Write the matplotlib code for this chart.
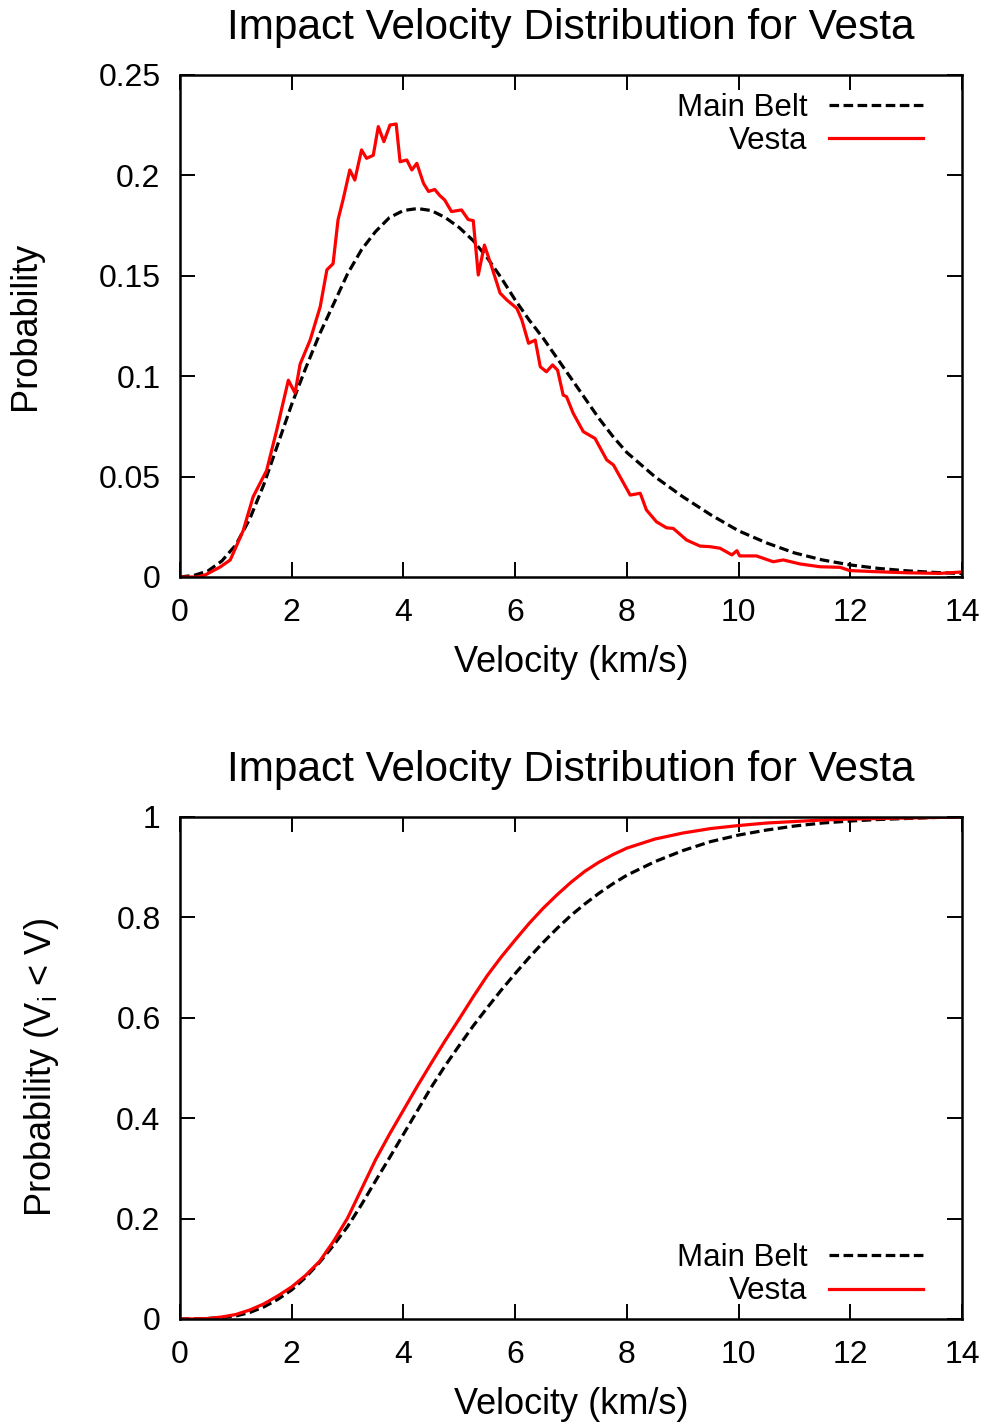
import matplotlib
matplotlib.use("Agg")
import matplotlib.pyplot as plt
from matplotlib.ticker import FuncFormatter, MultipleLocator

plt.rcParams['font.family'] = ['Liberation Sans', 'DejaVu Sans']

# ---- Data ----
# Probability density, Main Belt (smooth)
mb_v = [0.0, 0.25, 0.5, 0.75, 1.0, 1.25, 1.5, 1.75, 2.0, 2.25, 2.5, 2.75, 3.0,
        3.25, 3.5, 3.75, 4.0, 4.25, 4.5, 4.75, 5.0, 5.25, 5.5, 5.75, 6.0, 6.25,
        6.5, 6.75, 7.0, 7.25, 7.5, 7.75, 8.0, 8.25, 8.5, 8.75, 9.0, 9.5, 10.0,
        10.5, 11.0, 11.5, 12.0, 12.5, 13.0, 13.5, 14.0]
mb_p = [0.0, 0.0008, 0.003, 0.008, 0.016, 0.029, 0.046, 0.066, 0.086, 0.104,
        0.121, 0.136, 0.151, 0.163, 0.172, 0.179, 0.1825, 0.1835, 0.1825, 0.179,
        0.174, 0.1675, 0.159, 0.149, 0.138, 0.128, 0.119, 0.109, 0.099, 0.089,
        0.079, 0.070, 0.062, 0.056, 0.050, 0.045, 0.040, 0.031, 0.023, 0.017,
        0.012, 0.0085, 0.006, 0.0043, 0.0031, 0.0023, 0.0017]

# Probability density, Vesta (noisy histogram)
vesta_v = [0.0, 0.3, 0.45, 0.72, 0.9, 1.13, 1.31, 1.55, 1.73, 1.94, 2.06, 2.15,
           2.33, 2.51, 2.63, 2.74, 2.83, 2.92, 3.04, 3.13, 3.25, 3.34, 3.46, 3.55,
           3.65, 3.76, 3.87, 3.94, 4.06, 4.15, 4.24, 4.36, 4.45, 4.56, 4.65, 4.74,
           4.86, 5.04, 5.16, 5.25, 5.34, 5.45, 5.58, 5.73, 5.85, 6.03, 6.12, 6.24,
           6.36, 6.45, 6.56, 6.67, 6.76, 6.86, 6.92, 7.04, 7.22, 7.43, 7.64, 7.76,
           7.91, 8.06, 8.24, 8.35, 8.53, 8.71, 8.83, 9.07, 9.31, 9.49, 9.67, 9.88,
           9.97, 10.02, 10.32, 10.62, 10.80, 11.10, 11.46, 11.82, 11.99, 12.41,
           13.01, 13.60, 14.0]
vesta_p = [0.0, 0.0, 0.001, 0.005, 0.0085, 0.023, 0.040, 0.053, 0.073, 0.098,
           0.0916, 0.106, 0.118, 0.1346, 0.153, 0.156, 0.178, 0.188, 0.2027,
           0.1977, 0.2127, 0.2085, 0.210, 0.2243, 0.2168, 0.2251, 0.2256, 0.2068,
           0.2077, 0.2027, 0.206, 0.196, 0.192, 0.193, 0.190, 0.1877, 0.182,
           0.1828, 0.178, 0.1775, 0.1504, 0.1653, 0.1545, 0.1414, 0.138, 0.1338,
           0.128, 0.1164, 0.118, 0.1047, 0.1022, 0.1056, 0.103, 0.0906, 0.0898,
           0.0815, 0.0724, 0.069, 0.0583, 0.0558, 0.0483, 0.0408, 0.0417, 0.0334,
           0.0275, 0.0245, 0.0242, 0.0184, 0.0154, 0.0151, 0.0143, 0.011, 0.0131,
           0.0105, 0.0105, 0.0076, 0.0085, 0.0065, 0.0051, 0.0048, 0.0032, 0.0027,
           0.0021, 0.0018, 0.0025]

# Cumulative probability
cdf_v = [0.0, 0.25, 0.5, 0.75, 1.0, 1.25, 1.5, 1.75, 2.0, 2.25, 2.5, 2.75, 3.0,
         3.25, 3.5, 3.75, 4.0, 4.25, 4.5, 4.75, 5.0, 5.25, 5.5, 5.75, 6.0, 6.25,
         6.5, 6.75, 7.0, 7.25, 7.5, 7.75, 8.0, 8.5, 9.0, 9.5, 10.0, 10.5, 11.0,
         11.5, 12.0, 12.5, 13.0, 13.5, 14.0]
mb_cdf = [0.0, 0.0002, 0.001, 0.003, 0.006, 0.013, 0.024, 0.039, 0.058, 0.083,
          0.113, 0.147, 0.184, 0.228, 0.275, 0.321, 0.368, 0.415, 0.462, 0.505,
          0.545, 0.584, 0.620, 0.655, 0.688, 0.720, 0.750, 0.778, 0.804, 0.827,
          0.848, 0.867, 0.884, 0.911, 0.933, 0.951, 0.964, 0.974, 0.982, 0.988,
          0.992, 0.995, 0.997, 0.999, 1.0]
vesta_cdf = [0.0, 0.0002, 0.001, 0.004, 0.009, 0.018, 0.030, 0.046, 0.064, 0.087,
             0.115, 0.155, 0.201, 0.259, 0.317, 0.368, 0.416, 0.464, 0.510, 0.555,
             0.598, 0.642, 0.684, 0.721, 0.755, 0.788, 0.818, 0.845, 0.870, 0.892,
             0.910, 0.925, 0.938, 0.956, 0.968, 0.977, 0.983, 0.988, 0.991, 0.994,
             0.996, 0.997, 0.998, 0.999, 1.0]

title = "Impact Velocity Distribution for Vesta"
xlabel = "Velocity (km/s)"
labels = ["Main Belt", "Vesta"]

# ---- Figure ----
W, H = 990, 1426
fig = plt.figure(figsize=(W / 100, H / 100), dpi=100)

def px_axes(x0, y0, x1, y1):
    return fig.add_axes([x0 / W, 1 - y1 / H, (x1 - x0) / W, (y1 - y0) / H])

ax1 = px_axes(180, 75, 962, 577)
ax2 = px_axes(180, 817, 962, 1319)

fmt = FuncFormatter(lambda v, p: f"{v:g}")
LW = 2.3
DASH = (3.0, 1.4)

def style(ax, ylab, ystep):
    ax.set_xlim(0, 14)
    ax.xaxis.set_major_locator(MultipleLocator(2))
    ax.yaxis.set_major_locator(MultipleLocator(ystep))
    ax.yaxis.set_major_formatter(fmt)
    ax.xaxis.set_major_formatter(fmt)
    for s in ax.spines.values():
        s.set_linewidth(1.8)
    ax.tick_params(direction='in', length=10.5, width=1.4, top=True, right=True,
                   labelsize=23)
    ax.tick_params(axis='x', pad=15)
    ax.tick_params(axis='y', pad=14)
    ax.set_xlabel(xlabel, fontsize=26, labelpad=12)
    ax.set_ylabel(ylab, fontsize=26, labelpad=40)
    ax.set_title(title, fontsize=30.5, pad=26)

ax1.plot(mb_v, mb_p, color='black', lw=LW, dashes=DASH, label=labels[0])
ax1.plot(vesta_v, vesta_p, color='#ff0000', lw=LW, label=labels[1])
ax1.set_ylim(0, 0.25)
style(ax1, "Probability", 0.05)
ax1.legend(loc='upper right', bbox_to_anchor=(0.95, 0.965), frameon=False,
           markerfirst=False, fontsize=22.5, handlelength=3.0, handletextpad=0.7,
           labelspacing=0.1, borderaxespad=0, borderpad=0)

ax2.plot(cdf_v, mb_cdf, color='black', lw=LW, dashes=DASH, label=labels[0])
ax2.plot(cdf_v, vesta_cdf, color='#ff0000', lw=LW, label=labels[1])
ax2.set_ylim(0, 1)
style(ax2, r"Probability (V$_{\mathregular{i}}$ < V)", 0.2)
ax2.legend(loc='lower right', bbox_to_anchor=(0.95, 0.025), frameon=False,
           markerfirst=False, fontsize=22.5, handlelength=3.0, handletextpad=0.7,
           labelspacing=0.1, borderaxespad=0, borderpad=0)

fig.savefig("out.png", dpi=100)
